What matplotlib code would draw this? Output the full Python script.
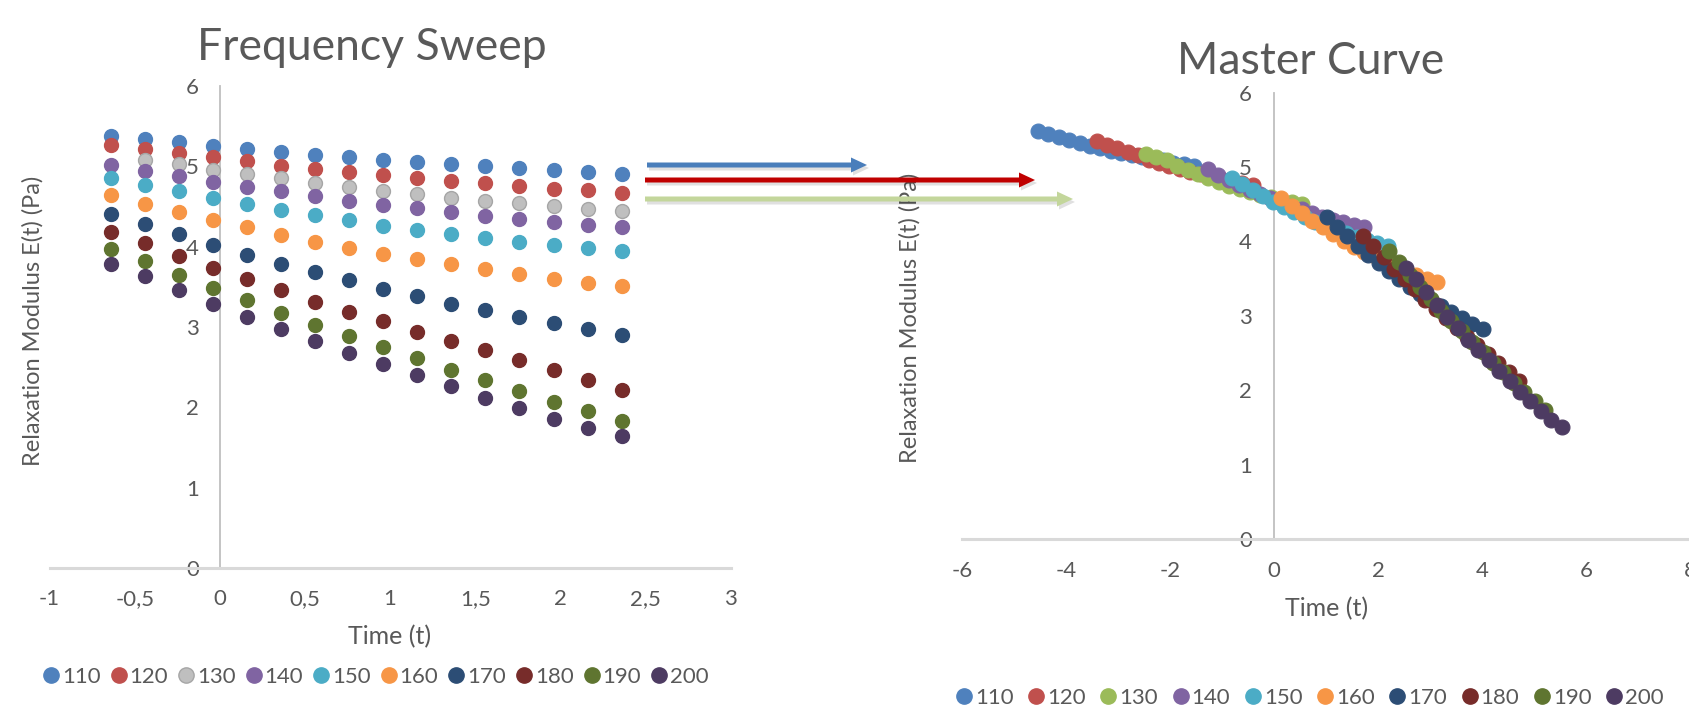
import numpy as np
import matplotlib
matplotlib.use('Agg')
import matplotlib.pyplot as plt
from matplotlib.patches import FancyArrow
from matplotlib.transforms import IdentityTransform
from matplotlib.lines import Line2D

plt.rcParams['font.family'] = ['Lato', 'DejaVu Sans']
plt.rcParams['axes.unicode_minus'] = False

# ---------------- data ----------------
temps = ['110', '120', '130', '140', '150', '160', '170', '180', '190', '200']
log_t = [-0.64, -0.44, -0.24, -0.04, 0.16, 0.36, 0.56, 0.76, 0.96, 1.16,
         1.36, 1.56, 1.76, 1.96, 2.16, 2.36]

E_110 = [5.38, 5.34, 5.30, 5.25, 5.21, 5.18, 5.14, 5.11, 5.08, 5.05, 5.03, 5.00, 4.98, 4.95, 4.93, 4.91]
E_120 = [5.26, 5.21, 5.16, 5.11, 5.07, 5.01, 4.97, 4.93, 4.89, 4.85, 4.82, 4.79, 4.75, 4.72, 4.70, 4.67]
E_130 = [5.12, 5.08, 5.03, 4.96, 4.90, 4.85, 4.79, 4.74, 4.69, 4.65, 4.61, 4.57, 4.54, 4.50, 4.47, 4.44]
E_140 = [5.02, 4.94, 4.88, 4.81, 4.74, 4.69, 4.63, 4.57, 4.52, 4.48, 4.43, 4.38, 4.34, 4.31, 4.27, 4.24]
E_150 = [4.85, 4.77, 4.69, 4.61, 4.53, 4.46, 4.39, 4.33, 4.26, 4.21, 4.16, 4.11, 4.06, 4.02, 3.98, 3.94]
E_160 = [4.64, 4.53, 4.43, 4.33, 4.24, 4.15, 4.06, 3.98, 3.91, 3.85, 3.78, 3.72, 3.66, 3.60, 3.55, 3.51]
E_170 = [4.41, 4.28, 4.16, 4.02, 3.90, 3.79, 3.68, 3.58, 3.47, 3.38, 3.29, 3.21, 3.13, 3.05, 2.97, 2.90]
E_180 = [4.18, 4.04, 3.89, 3.73, 3.60, 3.46, 3.31, 3.19, 3.07, 2.94, 2.82, 2.71, 2.59, 2.47, 2.34, 2.22]
E_190 = [3.97, 3.82, 3.65, 3.49, 3.33, 3.17, 3.03, 2.89, 2.75, 2.61, 2.47, 2.34, 2.20, 2.07, 1.95, 1.83]
E_200 = [3.78, 3.63, 3.46, 3.29, 3.13, 2.97, 2.82, 2.68, 2.54, 2.40, 2.26, 2.12, 1.99, 1.86, 1.74, 1.64]
sweep = [E_110, E_120, E_130, E_140, E_150, E_160, E_170, E_180, E_190, E_200]

# points not shown in the frequency-sweep panel: (series index, point index)
sweep_hidden = [(2, 0)]

# horizontal (log aT) and vertical shift factors
shift_log_aT = [-3.90, -2.77, -1.82, -0.63, -0.17, 0.78, 1.65, 2.35, 2.85, 3.17]
shift_log_E = [0.11, 0.09, 0.06, -0.05, 0.00, -0.05, -0.08, -0.10, -0.10, -0.14]

colors_sweep = ['#4F81BD', '#C0504D', '#BFBFBF', '#8064A2', '#4BACC6',
                '#F79646', '#2C4D75', '#772C2A', '#5F7530', '#4D3B62']
colors_master = ['#4F81BD', '#C0504D', '#9BBB59', '#8064A2', '#4BACC6',
                 '#F79646', '#2C4D75', '#772C2A', '#5F7530', '#4D3B62']

# ---------------- figure ----------------
W, H = 1689, 712
fig = plt.figure(figsize=(W / 100, H / 100), dpi=100)
TXT = '#595959'


def px_axes(x0, y0, x1, y1):
    return fig.add_axes([x0 / W, 1 - y1 / H, (x1 - x0) / W, (y1 - y0) / H])


def style(ax, xpad, ypad):
    ax.set_facecolor('none')
    for s in ['top', 'right']:
        ax.spines[s].set_visible(False)
    ax.spines['left'].set_position(('data', 0))
    ax.spines['left'].set_color('#BFBFBF')
    ax.spines['left'].set_linewidth(1.3)
    ax.spines['bottom'].set_color('#D9D9D9')
    ax.spines['bottom'].set_linewidth(2.2)
    ax.tick_params(axis='both', length=0, labelsize=16, labelcolor=TXT)
    ax.tick_params(axis='x', pad=xpad)
    ax.tick_params(axis='y', pad=ypad)


# Left: frequency sweep
ax1 = px_axes(49.6, 86, 730.6, 568)
ax1.set_xlim(-1, 3)
ax1.set_ylim(0, 6)
ax1.set_xticks([-1, -0.5, 0, 0.5, 1, 1.5, 2, 2.5, 3])
ax1.set_xticklabels(['-1', '-0,5', '0', '0,5', '1', '1,5', '2', '2,5', '3'])
ax1.set_yticks(range(0, 7))
style(ax1, 15, 15)
for i, (vals, col) in enumerate(zip(sweep, colors_sweep)):
    xs = [x for j, x in enumerate(log_t) if (i, j) not in sweep_hidden]
    ys = [v for j, v in enumerate(vals) if (i, j) not in sweep_hidden]
    ec = '#A6A6A6' if col == '#BFBFBF' else col
    ax1.scatter(xs, ys, s=100, color=col, edgecolors=ec,
                linewidths=1.0, zorder=3 + i, clip_on=False)

# Right: master curve
ax2 = px_axes(962, 92.7, 1690, 539)
ax2.set_xlim(-6, 8)
ax2.set_ylim(0, 6)
ax2.set_xticks(range(-6, 9, 2))
ax2.set_yticks(range(0, 7))
style(ax2, 16, 16)
for i, (vals, col) in enumerate(zip(sweep, colors_master)):
    xs = np.array(log_t) + shift_log_aT[i]
    ys = np.array(vals) + shift_log_E[i]
    ax2.scatter(xs, ys, s=115, color=col, edgecolors=col,
                linewidths=0.8, zorder=3 + i, clip_on=False)

# titles and axis labels
fig.text(372 / W, 1 - 48 / H, 'Frequency Sweep', ha='center', va='center',
         fontsize=32, color=TXT)
fig.text(1311 / W, 1 - 61 / H, 'Master Curve', ha='center', va='center',
         fontsize=32, color=TXT)
fig.text(33 / W, 1 - 321 / H, 'Relaxation Modulus E(t) (Pa)', rotation=90,
         ha='center', va='center', fontsize=17, color=TXT)
fig.text(910 / W, 1 - 318 / H, 'Relaxation Modulus E(t) (Pa)', rotation=90,
         ha='center', va='center', fontsize=17, color=TXT)
fig.text(390 / W, 1 - 637 / H, 'Time (t)', ha='center', va='center',
         fontsize=18, color=TXT)
fig.text(1327 / W, 1 - 609 / H, 'Time (t)', ha='center', va='center',
         fontsize=18, color=TXT)

# legends
def handles(colors):
    hs = []
    for c in colors:
        ec = '#A6A6A6' if c == '#BFBFBF' else c
        hs.append(Line2D([], [], ls='none', marker='o', markersize=11,
                         markerfacecolor=c, markeredgecolor=ec))
    return hs


leg1 = fig.legend(handles(colors_sweep), temps, loc='center', ncol=10,
                  bbox_to_anchor=(376 / W, 1 - 677 / H), frameon=False,
                  fontsize=16, handlelength=0.7, handletextpad=0.15,
                  columnspacing=0.45, labelcolor=TXT)
leg2 = fig.legend(handles(colors_master), temps, loc='center', ncol=10,
                  bbox_to_anchor=(1310 / W, 1 - 698 / H), frameon=False,
                  fontsize=16, handlelength=0.7, handletextpad=0.15,
                  columnspacing=0.66, labelcolor=TXT)

# arrows (pixel coordinates, y measured from top of image)
arrows = [(647, 867, 165, '#4A7EBB'),
          (645, 1035, 180, '#C00000'),
          (645, 1073, 199, '#C3D69B')]
for x0, x1, y, col in arrows:
    yd = H - y
    sh = FancyArrow(x0 + 2, yd - 3, x1 - x0, 0, width=5, head_width=15,
                    head_length=16, length_includes_head=True,
                    color='#000000', alpha=0.12, lw=0,
                    transform=IdentityTransform(), zorder=19)
    fig.add_artist(sh)
    ar = FancyArrow(x0, yd, x1 - x0, 0, width=5, head_width=15,
                    head_length=16, length_includes_head=True, color=col,
                    lw=0, transform=IdentityTransform(), zorder=20)
    fig.add_artist(ar)

fig.savefig('out.png', dpi=100)
